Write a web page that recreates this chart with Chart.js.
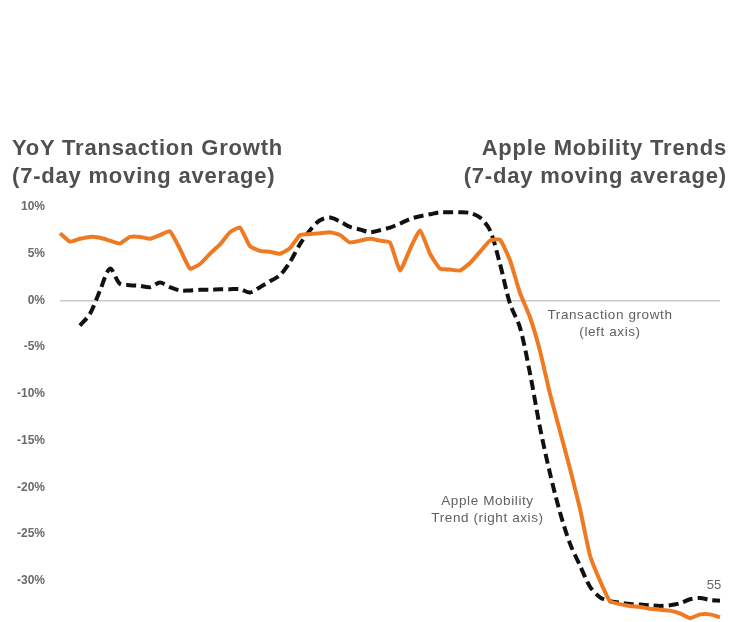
<!DOCTYPE html>
<html>
<head>
<meta charset="utf-8">
<script src="https://cdn.jsdelivr.net/npm/chart.js@4.4.1/dist/chart.umd.min.js"></script>
<style>
  html, body { margin: 0; padding: 0; background: #fff; overflow: hidden; width: 736px; height: 622px; }
  #wrap { position: absolute; left: 0; top: 0; width: 736px; height: 645px; }
  .title { position: absolute; font-family: "Liberation Sans", Arial, sans-serif; font-weight: bold; font-size: 22px; letter-spacing: 0.8px; line-height: 28px; color: #505050; white-space: nowrap; }
  .note { position: absolute; font-family: "Liberation Sans", Arial, sans-serif; font-size: 13.5px; letter-spacing: 0.6px; line-height: 17px; color: #606060; text-align: center; white-space: nowrap; }
</style>
</head>
<body>
<div id="wrap"><canvas id="chartCanvas"></canvas></div>
<div class="title" style="left:12px; top:134px;">YoY Transaction Growth<br>(7-day moving average)</div>
<div class="title" style="right:9px; top:134px; text-align:right;">Apple Mobility Trends<br>(7-day moving average)</div>
<div class="note" style="left:530px; top:306px; width:160px;">Transaction growth<br>(left axis)</div>
<div class="note" style="left:415px; top:492px; width:145px;">Apple Mobility<br>Trend (right axis)</div>
<script>
// daily points, 27 Jan - 2 Apr 2020
const startDay = new Date(2020, 0, 27);
const days = [];
for (let i = 0; i < 67; i++) {
  const d = new Date(startDay);
  d.setDate(d.getDate() + i);
  days.push((d.getMonth() + 1) + "/" + d.getDate());
}

// YoY transaction growth, % (left axis)
const transactionGrowth = [
  7.2, 6.3, 6.6, 6.8, 6.7, 6.4, 6.1, 6.8, 6.8, 6.6,
  7.0, 7.4, 5.5, 3.4, 3.9, 5.0, 6.0, 7.3, 7.8, 5.8,
  5.3, 5.2, 5.0, 5.6, 7.0, 7.1, 7.2, 7.3, 7.0, 6.2,
  6.4, 6.6, 6.4, 6.2, 3.2, 5.5, 7.5, 5.0, 3.4, 3.3,
  3.2, 4.0, 5.2, 6.4, 6.5, 4.3, 0.8, -1.8, -5.4, -10.0,
  -14.0, -18.0, -22.3, -27.3, -30.0, -32.2, -32.5, -32.7, -32.8, -33.0,
  -33.1, -33.2, -33.5, -34.0, -33.6, -33.6, -33.9
];

// Apple mobility trend index (right axis)
const mobilityTrend = [
  null, null, 96.2, 98.0, 101.5, 104.8, 102.5, 102.3, 102.2, 102.0,
  102.7, 102.0, 101.5, 101.5, 101.6, 101.6, 101.7, 101.7, 101.7, 101.2,
  102.0, 102.9, 103.8, 105.8, 108.5, 110.6, 112.1, 112.5, 111.9, 111.1,
  110.7, 110.3, 110.6, 111.0, 111.6, 112.3, 112.7, 113.0, 113.3, 113.3,
  113.3, 113.2, 112.5, 110.6, 105.5, 99.5, 95.9, 89.0, 80.8, 73.9,
  68.0, 63.3, 60.0, 56.8, 55.2, 54.6, 54.4, 54.2, 54.1, 54.0,
  53.9, 54.0, 54.3, 54.9, 55.1, 54.8, 54.7
];

const leftTicks = [-30, -25, -20, -15, -10, -5, 0, 5, 10];

// writes the latest mobility value above its last point
const endLabel = {
  id: "endLabel",
  afterDatasetsDraw(chart) {
    const meta = chart.getDatasetMeta(1);
    const last = meta.data[meta.data.length - 1];
    const ctx = chart.ctx;
    ctx.save();
    ctx.font = "13px 'Liberation Sans', Arial, sans-serif";
    ctx.fillStyle = "#666";
    ctx.textAlign = "center";
    ctx.textBaseline = "bottom";
    ctx.fillText(Math.round(mobilityTrend[mobilityTrend.length - 1]), last.x - 6, last.y - 9);
    ctx.restore();
  }
};

const ctx = document.getElementById("chartCanvas").getContext("2d");
new Chart(ctx, {
  type: "line",
  data: {
    labels: days,
    datasets: [
      {
        label: "Transaction growth (left axis)",
        data: transactionGrowth,
        yAxisID: "y",
        borderColor: "#f07a22",
        borderWidth: 4,
        pointRadius: 0,
        tension: 0.15,
        fill: false
      },
      {
        label: "Apple Mobility Trend (right axis)",
        data: mobilityTrend,
        yAxisID: "y1",
        borderColor: "#111",
        borderWidth: 4,
        borderDash: [10, 5],
        pointRadius: 0,
        tension: 0.3,
        fill: false
      }
    ]
  },
  options: {
    responsive: true,
    maintainAspectRatio: false,
    animation: false,
    layout: { padding: { top: 207, right: 16, bottom: 0, left: 0 } },
    plugins: {
      legend: { display: false },
      tooltip: { enabled: false }
    },
    scales: {
      x: { display: false, offset: false },
      y: {
        position: "left",
        min: -34.5,
        max: 10,
        afterFit: (scale) => { scale.width = 60; },
        afterBuildTicks: (scale) => { scale.ticks = leftTicks.map(v => ({ value: v })); },
        border: { display: false },
        grid: {
          drawTicks: false,
          color: (c) => (c.tick && c.tick.value === 0 ? "#c9c9c9" : "rgba(0,0,0,0)"),
          lineWidth: 1.5
        },
        ticks: {
          padding: 15,
          color: "#6a6a6a",
          font: { family: "'Liberation Sans', Arial, sans-serif", size: 12, weight: "bold" },
          callback: (v) => v + "%"
        }
      },
      y1: {
        display: false,
        position: "right",
        min: 100 - 34.5 * 1.41,
        max: 100 + 10 * 1.41
      }
    }
  },
  plugins: [endLabel]
});
</script>
</body>
</html>
